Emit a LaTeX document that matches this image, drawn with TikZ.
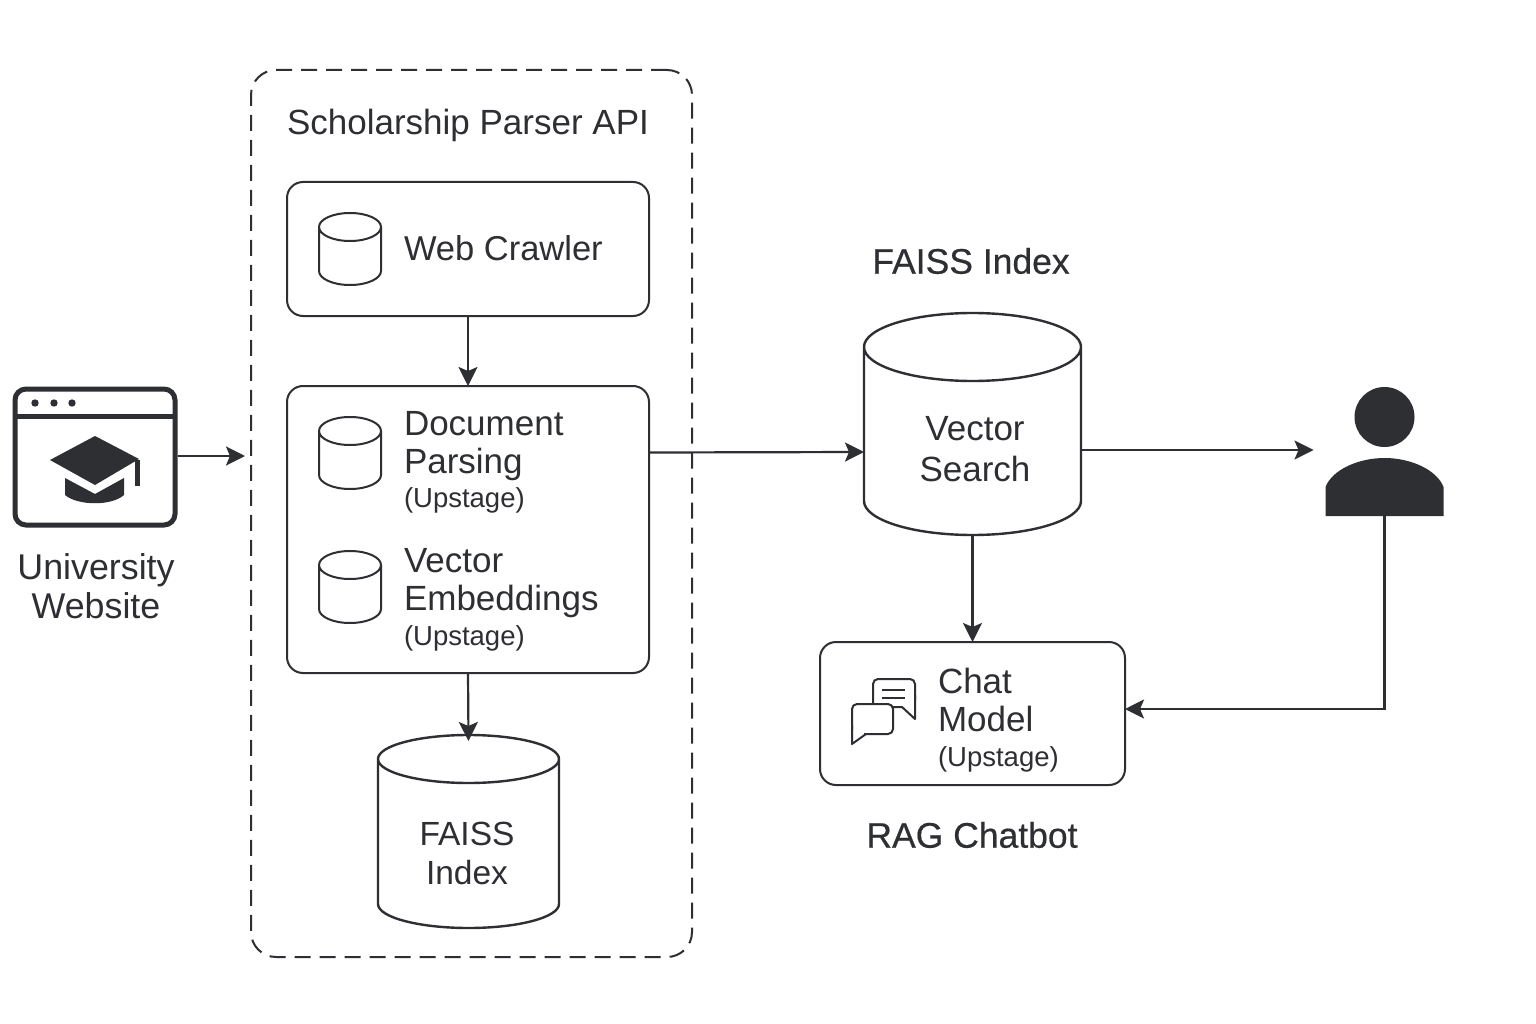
\documentclass[tikz,border=0pt]{standalone}
\usepackage{fontspec}
\setmainfont{Liberation Sans}
\newfontfamily\medfont{Liberation Sans}[FakeBold=0.5]
\usetikzlibrary{arrows.meta,calc}
\definecolor{ink}{HTML}{2E2F33}
\newcommand{\cylshape}[4]{% name, ellipse ry, line width, x radius
  \draw[ink,line width=#3,fill=white,line join=round]
    ($(#1.north west)+(0,-#2)$) -- ($(#1.south west)+(0,#2)$)
    arc[start angle=180,end angle=360,x radius=#4,y radius=#2]
    -- ($(#1.north east)+(0,-#2)$)
    arc[start angle=0,end angle=180,x radius=#4,y radius=#2]
    arc[start angle=180,end angle=360,x radius=#4,y radius=#2];
}
\tikzset{
  x=1pt,y=-1pt,
  txt/.style={text=ink,inner sep=0pt,outer sep=0pt,align=#1},
  txt/.default=left,
  box/.style={draw=ink,line width=2pt,rounded corners=16pt,fill=white,inner sep=0pt,outer sep=0pt},
  holder/.style={inner sep=0pt,outer sep=0pt,minimum width=#1},
  flow/.style={draw=ink,line width=2.2pt,-{Stealth[length=19pt,width=19pt,inset=4pt]}},
  big/.style={font=\fontsize{35}{38}\selectfont},
  title/.style={font=\medfont\fontsize{35.5}{38}\selectfont},
}
\newcommand{\ups}{{\fontsize{27.5}{30}\selectfont (Upstage)}}
\begin{document}
\begin{tikzpicture}
\useasboundingbox (0,0) rectangle (1536,1024);
\fill[white] (0,0) rectangle (1536,1024);

% group frame
\node[draw=ink,line width=2pt,dash pattern=on 16pt off 9pt,rounded corners=25pt,
  minimum width=441pt,minimum height=887pt,inner sep=0pt,outer sep=0pt] (group) at (471.5,513.5) {};
\node[txt,big,anchor=center] (grouptitle) at (468,125) {Scholarship Parser API};

% boxes
\node[box,minimum width=362pt,minimum height=134pt] (crawler) at (468,249) {};
\node[box,minimum width=362pt,minimum height=287pt] (doc) at (468,529.5) {};
\node[box,minimum width=305pt,minimum height=143pt] (chat) at (972.5,713.5) {};

% cylinders
\node[holder=62pt,minimum height=72pt] (cyla) at (350,249) {};
\cylshape{cyla}{14pt}{2pt}{31pt}
\node[holder=62pt,minimum height=72pt] (cylb) at (350,453) {};
\cylshape{cylb}{14pt}{2pt}{31pt}
\node[holder=62pt,minimum height=72pt] (cylc) at (350,587) {};
\cylshape{cylc}{14pt}{2pt}{31pt}
\node[holder=181pt,minimum height=193pt] (faisscyl) at (468.5,831.5) {};
\cylshape{faisscyl}{24pt}{2.4pt}{90.5pt}
\node[holder=217pt,minimum height=222pt] (vector) at (972.5,424) {};
\cylshape{vector}{34pt}{2.4pt}{108.5pt}

% box texts
\node[txt,anchor=west,font=\fontsize{34.5}{38}\selectfont] (crawlertxt) at (404,248) {Web Crawler};
\node[txt,big,anchor=west] (doctxt) at (404,462) {Document\\Parsing\\[-4pt]\ups};
\node[txt,big,anchor=west] (vectxt) at (404,600) {Vector\\Embeddings\\[-3pt]\ups};
\node[txt=center,anchor=center,font=\fontsize{33.5}{38}\selectfont] (faisstxt) at (467,853) {FAISS\\[1pt]Index};
\node[txt=center,big,anchor=center] (vectortxt) at (975,449) {Vector\\[3pt]Search};
\node[txt,big,anchor=west] (chattxt) at (938,720) {Chat\\Model\\[-3pt]\ups};
\node[txt,title,anchor=center] (faisstitle) at (971,261) {FAISS Index};
\node[txt,title,anchor=center] (ragtitle) at (972,835) {RAG Chatbot};
\node[txt=center,anchor=center,font=\fontsize{35.8}{38}\selectfont] (unitxt) at (96,586) {University\\[1pt]Website};

% university icon
\node[draw=ink,line width=5pt,rounded corners=11pt,minimum width=160pt,minimum height=136pt,
  inner sep=0pt,outer sep=2.5pt] (uni) at (95,457) {};
\draw[ink,line width=5pt] (15,416) -- (175,416);
\foreach \dx in {35,54,72} \fill[ink] (\dx,403) circle[radius=3.7pt];
\fill[ink] (50,460) -- (95,436) -- (139,459) -- (95,485) -- cycle;
\fill[ink] (135,460) -- (140,460) -- (140,486) -- (135,486) -- cycle;
\fill[ink] (65,478) -- (95,494) -- (124,478) -- (124,495) .. controls (112,506) and (78,506) .. (65,495) -- cycle;

% person
\node[circle,fill=ink,minimum size=60pt,inner sep=0pt,outer sep=0pt] (head) at (1384.5,417) {};
\node[inner sep=0pt,outer sep=0pt,minimum width=118pt,minimum height=58pt] (person) at (1384.5,487) {};
\fill[ink] (person.south west) -- (1325.5,487) .. controls (1332,470) and (1358,458) .. (1384.5,458)
  .. controls (1411,458) and (1437,470) .. (1443.5,487) -- (person.south east) -- cycle;

% chat icon
\draw[ink,line width=2pt,line join=round,rounded corners=5pt] (873,703) -- (873,679) -- (915,679) -- (915,700);
\draw[ink,line width=2pt,line join=round] (915,695) -- (915,719) -- (902,707) -- (893,707);
\draw[ink,line width=2pt] (882,690) -- (905,690) (882,698) -- (905,698);
\draw[ink,line width=2pt,line join=round,rounded corners=5pt] (852,730) -- (852,704) -- (893,704) -- (893,734) -- (864,734);
\draw[ink,line width=2pt,line join=round] (866,734) -- (852,744) -- (852,725);

% connectors
\draw[flow,shorten >=6pt] ([yshift=1pt]uni.east) -- ([yshift=1pt]group.west |- uni.east);
\draw[flow] (crawler) -- (doc);
\draw[flow] (doc.south) -- ([yshift=-6pt]faisscyl.north);
\draw[flow] ([yshift=77pt]doc.east) -- ([yshift=-28pt]vector.west);
\draw[flow] (vector.south) -- (chat.north);
\draw[flow] ([yshift=-26pt]vector.east) -- ($(person.west |- head.south)+(-12,3)$);
\draw[flow] (person.south) |- ([yshift=4.5pt]chat.east);
\end{tikzpicture}
\end{document}
